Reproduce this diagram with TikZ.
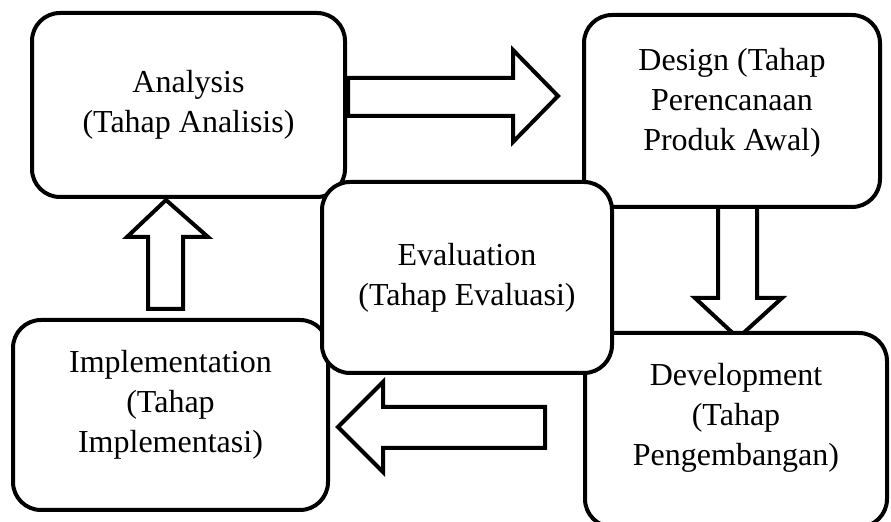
\documentclass[tikz,border=0pt]{standalone}
\usepackage{fontspec}
\setmainfont{Liberation Serif}

\tikzset{
    phase/.style={draw, line width=2pt, rounded corners=14pt, fill=white, align=center,
        font=\fontsize{16}{20}\selectfont},
    bigarrow/.style={draw, line width=2pt, fill=white}
}

\begin{document}
\begin{tikzpicture}[x=0.5pt, y=-0.5pt]
    \useasboundingbox (0, 0) rectangle (891, 522);

    % block arrows
    \draw [bigarrow] (348, 78) -- (513, 78) -- (513, 50) -- (558, 96) -- (513, 142) -- (513, 116) -- (348, 116) -- cycle;
    \draw [bigarrow] (718, 200) -- (718, 298) -- (695, 298) -- (738, 338) -- (782, 298) -- (757, 298) -- (757, 200) -- cycle;
    \draw [bigarrow] (545, 407) -- (383, 407) -- (383, 382) -- (338, 427) -- (383, 472) -- (383, 448) -- (545, 448) -- cycle;
    \draw [bigarrow] (148, 309) -- (148, 237) -- (127, 237) -- (166, 200) -- (208, 237) -- (183, 237) -- (183, 309) -- cycle;

    \node [phase, minimum width=156.5pt, minimum height=92pt] (analysis) at (188.5, 105)
        {Analysis\\(Tahap Analisis)};
    \node [phase, minimum width=148pt, minimum height=96pt, text depth=11.8pt] (design) at (732, 111)
        {Design (Tahap\\Perencanaan\\Produk Awal)};
    \node [phase, minimum width=157.5pt, minimum height=95pt, text depth=13.5pt] (implement) at (170.5, 415)
        {Implementation\\(Tahap\\Implementasi)};
    \node [phase, minimum width=151pt, minimum height=97pt, text depth=15.5pt] (develop) at (736, 430)
        {Development\\(Tahap\\Pengembangan)};
    \node [phase, minimum width=145pt, minimum height=95.5pt] (evaluate) at (467, 277.5)
        {Evaluation\\(Tahap Evaluasi)};
\end{tikzpicture}
\end{document}
